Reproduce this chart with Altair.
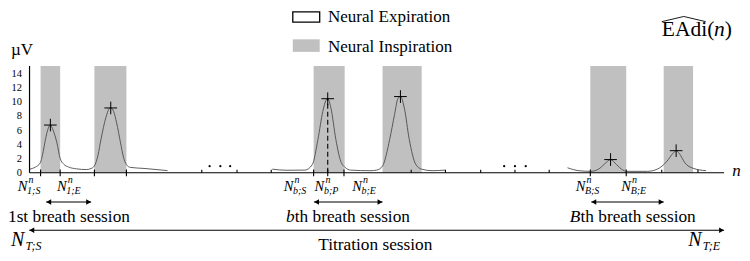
import altair as alt
import pandas as pd

# ---------------- data (n = sample index, v = EAdi in µV) ----------------
insp_start = [11.3, 66.3, 290.3, 360.7, 573.0, 648.0]
insp_end = [31.3, 99.0, 322.0, 400.7, 609.7, 678.0]
band_top = 15

peak_n = [21.3, 83.0, 304.7, 379.0, 593.7, 660.7]
peak_v = [6.7, 9.1, 10.4, 10.7, 1.85, 3.1]

seg1_n = [0, 6, 11, 14, 16.3, 19, 21.3, 24, 28, 31.3, 35, 40, 48, 58, 63, 66.3, 70, 73, 78, 81, 83, 86, 89, 93, 96, 99, 103, 118, 141]
seg1_v = [0.5, 0.8, 1.4, 3.0, 4.7, 6.2, 6.7, 6.0, 4.2, 2.0, 1.2, 0.8, 0.55, 0.45, 0.6, 0.95, 2.5, 4.7, 7.75, 8.9, 9.1, 8.6, 7.0, 4.2, 2.2, 1.16, 0.75, 0.6, 0.3]
seg2_n = [248, 263, 281.3, 289, 294.7, 299.7, 303, 304.7, 308, 313, 318, 322.7, 328, 348, 354.7, 360.7, 368, 373, 376.3, 379, 383, 388, 394.7, 400.7, 411.3, 424.7]
seg2_v = [0.5, 0.35, 0.37, 1.16, 4.68, 8.63, 10.2, 10.4, 9.07, 4.68, 1.61, 0.73, 0.37, 0.29, 0.37, 0.95, 4.68, 8.2, 10.39, 10.7, 9.07, 4.68, 1.16, 0.5, 0.29, 0.37]
seg3_n = [549.7, 561.3, 573.3, 581.3, 588, 593.7, 599.7, 606.3, 610, 631.3, 641.3, 651.3, 657.3, 660.7, 664, 669.7, 678, 691.3]
seg3_v = [0.7, 0.29, 0.2, 0.5, 1.29, 1.85, 1.16, 0.37, 0.2, 0.2, 0.5, 1.61, 2.7, 3.1, 2.7, 1.38, 0.63, 0.29]

y_ticks = [0, 2, 4, 6, 8, 10, 12, 14]
axis_end_n = 709.7

big_tick_n = [11.3, 31.3, 66.3, 99.0, 290.3, 304.7, 321.3, 573.0, 609.7]
small_tick_n = [176, 212, 247, 390, 425, 461, 496, 531, 646, 683]
dots_n = [184, 195, 205, 485, 496, 507]

mark_subs = ["1;S", "1;E", "b;S", "b;P", "b;E", "B;S", "B;E"]
mark_label_n = [-12, 28, 259.7, 291.3, 329.7, 558, 604.7]

sess_start = [17, 290.7, 574]
sess_end = [63, 360.7, 648]
titr_start, titr_end = -0.3, 709.7

# ---------------- scales ----------------
FONT = "Liberation Serif"
xs = alt.Scale(domain=[0, 728], nice=False, zero=False)
ys = alt.Scale(domain=[-11.27, 23.14], nice=False, zero=False)
yaxis = alt.Axis(values=y_ticks, title=None, domain=False, ticks=False, grid=False,
                 labelFont=FONT, labelFontSize=10.5, labelPadding=8,
                 labelColor="black")


def X(f):
    return alt.X(f, type="quantitative", scale=xs, axis=None)


def Y(f):
    return alt.Y(f, type="quantitative", scale=ys, axis=yaxis)


# inspiration bands
bands = pd.DataFrame({"n1": insp_start, "n2": insp_end, "v1": 0, "v2": band_top})
band_layer = alt.Chart(bands).mark_rect(color="#c0c0c0").encode(
    x=X("n1"), x2="n2", y=Y("v1"), y2="v2")

# legend boxes
leg = pd.DataFrame({"n1": [269, 269], "n2": [296.5, 296.5], "v1": [22.6, 18.74],
                    "v2": [21.16, 16.98], "k": ["exp", "insp"]})
leg_exp = alt.Chart(leg).transform_filter("datum.k == 'exp'").mark_rect(
    fill="white", stroke="black", strokeWidth=1.3).encode(x=X("n1"), x2="n2", y=Y("v1"), y2="v2")
leg_insp = alt.Chart(leg).transform_filter("datum.k == 'insp'").mark_rect(
    fill="#c0c0c0").encode(x=X("n1"), x2="n2", y=Y("v1"), y2="v2")

# signal
sig = pd.concat([
    pd.DataFrame({"n": seg1_n, "v": seg1_v, "seg": "a"}),
    pd.DataFrame({"n": seg2_n, "v": seg2_v, "seg": "b"}),
    pd.DataFrame({"n": seg3_n, "v": seg3_v, "seg": "c"}),
])
sig_layer = alt.Chart(sig).mark_line(interpolate="monotone", color="#4d4d4d",
                                     strokeWidth=0.9).encode(x=X("n"), y=Y("v"), detail="seg:N")

# peaks
peaks = pd.DataFrame({"n": peak_n, "v": peak_v})
peak_layer = alt.Chart(peaks).mark_point(shape="M-1,0L1,0M0,-1L0,1", size=160, filled=False,
                                         stroke="black", strokeWidth=1, opacity=1).encode(
    x=X("n"), y=Y("v"))
dash = alt.Chart(peaks.iloc[[2]].assign(z=0)).mark_rule(color="black", strokeDash=[5, 3],
                                                        strokeWidth=1.1).encode(
    x=X("n"), y=Y("z"), y2="v")

# axes lines
axes = pd.DataFrame({"n1": [0, 0], "n2": [axis_end_n, 0], "v1": [0, 0], "v2": [0, band_top]})
axes_layer = alt.Chart(axes).mark_rule(color="black", strokeWidth=1.2).encode(
    x=X("n1"), x2="n2", y=Y("v1"), y2="v2")

ticks = pd.concat([
    pd.DataFrame({"n": big_tick_n, "v1": 0.46, "v2": -0.5}),
    pd.DataFrame({"n": small_tick_n, "v1": 0.42, "v2": 0.0}),
])
tick_layer = alt.Chart(ticks).mark_rule(color="black", strokeWidth=1.1).encode(
    x=X("n"), y=Y("v1"), y2="v2")

dots = pd.DataFrame({"n": dots_n, "v": 0.92})
dot_layer = alt.Chart(dots).mark_circle(color="black", size=5, opacity=1).encode(x=X("n"), y=Y("v"))

# arrows
arr = pd.DataFrame({"n1": sess_start + [titr_start], "n2": sess_end + [titr_end],
                    "v": [-4.11, -4.11, -4.11, -8.07]})
arr_line = alt.Chart(arr).mark_rule(color="black", strokeWidth=1.1).encode(
    x=X("n1"), x2="n2", y=Y("v"))
heads_l = alt.Chart(arr).transform_calculate(h="datum.n1 + 2.6").mark_point(
    shape="triangle-left", filled=True, color="black", size=32, opacity=1).encode(x=X("h"), y=Y("v"))
heads_r = alt.Chart(arr).transform_calculate(h="datum.n2 - 2.6").mark_point(
    shape="triangle-right", filled=True, color="black", size=32, opacity=1).encode(x=X("h"), y=Y("v"))

# texts
rows = []


def t(text, n, v, size, italic=False):
    rows.append({"text": text, "n": n, "v": v, "size": size, "it": italic})


t("µV", -19, 16.54, 17)
t("Neural Expiration", 305, 21.2, 17)
t("Neural Inspiration", 305, 17.0, 17)
t("EAdi(", 646, 19.18, 21.5)
t("n", 699.3, 19.18, 21.5, True)
t(")", 710.3, 19.18, 21.5)
t("n", 718, -0.46, 17, True)
t("1st breath session", -22, -6.96, 17.3)
t("b", 262, -6.96, 17.3, True)
t("th breath session", 271, -6.96, 17.3)
t("B", 552, -6.96, 17.3, True)
t("th breath session", 563, -6.96, 17.3)
t("Titration session", 295, -10.88, 17.3)
t("N", -19, -10.3, 20, True)
t("T;S", -4, -10.8, 12, True)
t("N", 673, -10.3, 20, True)
t("T;E", 688, -10.8, 12, True)
for s, n0 in zip(mark_subs, mark_label_n):
    t("N", n0, -2.57, 14.5, True)
    t("n", n0 + 11, -1.45, 10, True)
    t(s, n0 + 9.5, -2.95, 10, True)
texts = pd.DataFrame(rows)

txt_norm = alt.Chart(texts).transform_filter("!datum.it").mark_text(
    align="left", baseline="alphabetic", font=FONT, color="black").encode(
    x=X("n"), y=Y("v"), text="text:N", size=alt.Size("size:Q", scale=None))
txt_it = alt.Chart(texts).transform_filter("datum.it").mark_text(
    align="left", baseline="alphabetic", font=FONT, fontStyle="italic", color="black").encode(
    x=X("n"), y=Y("v"), text="text:N", size=alt.Size("size:Q", scale=None))

hat = pd.DataFrame({"n": [646, 668.5, 691], "v": [21.22, 21.95, 21.22]})
hat_layer = alt.Chart(hat).mark_line(color="black", strokeWidth=0.9).encode(x=X("n"), y=Y("v"))

chart = alt.layer(
    band_layer, leg_exp, leg_insp, sig_layer, dash, axes_layer, tick_layer, dot_layer,
    peak_layer, arr_line, heads_l, heads_r, txt_norm, txt_it, hat_layer
).properties(
    width=712.47, height=245,
    autosize=alt.AutoSizeParams(type="none"),
    padding={"left": 21.53, "top": 0, "right": 0, "bottom": 0},
    background="white",
).configure_view(stroke=None)

chart.save("out.html", embed_options={"renderer": "svg", "actions": False})
